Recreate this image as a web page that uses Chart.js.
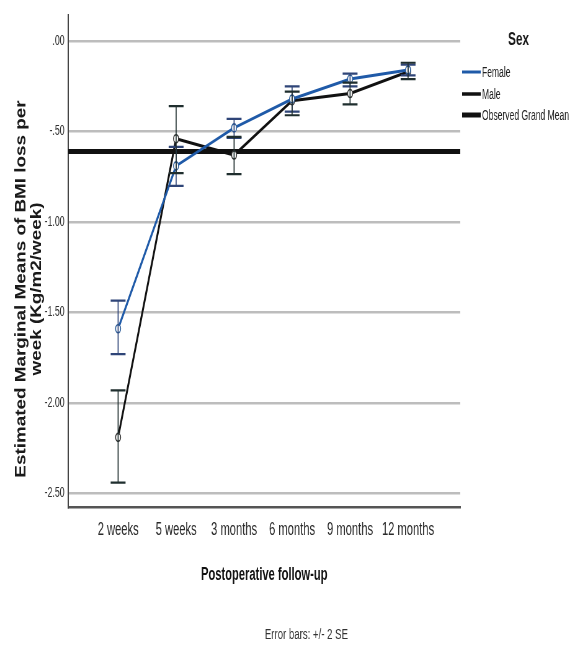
<!DOCTYPE html>
<html>
<head>
<meta charset="utf-8">
<script src="https://cdn.jsdelivr.net/npm/chart.js@4.4.1/dist/chart.umd.min.js"></script>
<style>
  html, body { margin: 0; padding: 0; background: #ffffff; overflow: hidden; }
  #wrap { width: 575px; height: 648px; overflow: hidden; }
  canvas { display: block; width: 575px !important; height: 648px !important; }
</style>
</head>
<body>
<div id="wrap"><canvas id="c" width="927" height="648"></canvas></div>
<script>
// ---- data ----
const categories = ['2 weeks', '5 weeks', '3 months', '6 months', '9 months', '12 months'];
const femaleMeans = [-1.59, -0.69, -0.48, -0.32, -0.21, -0.16];
const femaleUpper = [-1.435, -0.585, -0.43, -0.25, -0.18, -0.13];
const femaleLower = [-1.73, -0.80, -0.535, -0.39, -0.25, -0.19];
const maleMeans = [-2.19, -0.54, -0.63, -0.33, -0.29, -0.17];
const maleUpper = [-1.93, -0.36, -0.53, -0.28, -0.23, -0.12];
const maleLower = [-2.44, -0.73, -0.735, -0.41, -0.35, -0.21];
const grandMean = -0.61;
const yTickValues = [0, -0.5, -1, -1.5, -2, -2.5];
const seriesNames = ['Female', 'Male', 'Observed Grand Mean'];
const legendTitle = 'Sex';
const yTitleLines = ['Estimated Marginal Means of BMI loss per', 'week (Kg/m2/week)'];
const xTitle = 'Postoperative follow-up';
const footnote = 'Error bars: +/- 2 SE';

const xMin = -0.86, xMax = 5.9;
const yMin = -2.575, yMax = 0.144;

const FONT = "'Liberation Sans', Arial, Helvetica, sans-serif";
const FEMALE_COLOR = '#1f5aa8';
const MALE_COLOR = '#111111';

function fmtTick(v) {
  return Number(v).toFixed(2).replace(/^(-?)0\./, '$1.');
}

const errorBarPlugin = {
  id: 'errorBars',
  afterDatasetsDraw(chart) {
    const { ctx } = chart;
    const xs = chart.scales.x, ys = chart.scales.y;
    const sets = [
      { upper: femaleUpper, lower: femaleLower, color: '#2f4578' },
      { upper: maleUpper, lower: maleLower, color: '#1f2e2e' }
    ];
    ctx.save();
    sets.forEach(s => {
      ctx.strokeStyle = s.color;
      for (let i = 0; i < categories.length; i++) {
        const px = xs.getPixelForValue(i);
        const t = ys.getPixelForValue(s.upper[i]);
        const b = ys.getPixelForValue(s.lower[i]);
        ctx.lineWidth = 1.7;
        ctx.beginPath(); ctx.moveTo(px, t); ctx.lineTo(px, b); ctx.stroke();
        ctx.lineWidth = 2.2;
        ctx.beginPath();
        ctx.moveTo(px - 12, t); ctx.lineTo(px + 12, t);
        ctx.moveTo(px - 12, b); ctx.lineTo(px + 12, b);
        ctx.stroke();
      }
    });
    ctx.restore();
  }
};

const textPlugin = {
  id: 'extraText',
  afterDraw(chart) {
    const { ctx } = chart;
    ctx.save();
    // y axis title (two rotated lines)
    ctx.fillStyle = '#1a1a1a';
    ctx.font = 'bold 23px ' + FONT;
    ctx.textAlign = 'center';
    ctx.textBaseline = 'middle';
    const titleXs = [35, 60];
    yTitleLines.forEach((line, k) => {
      ctx.save();
      ctx.translate(titleXs[k], 289);
      ctx.rotate(-Math.PI / 2);
      ctx.scale(0.82, 1);
      ctx.fillText(line, 0, 0);
      ctx.restore();
    });

    // legend
    ctx.font = 'bold 19px ' + FONT;
    ctx.fillStyle = '#1a1a1a';
    ctx.fillText(legendTitle, 836, 40);
    const legendYs = [72, 94, 115];
    const legendColors = [FEMALE_COLOR, MALE_COLOR, MALE_COLOR];
    const legendWidths = [3, 3.5, 5];
    ctx.textAlign = 'left';
    ctx.font = '13.8px ' + FONT;
    seriesNames.forEach((name, k) => {
      ctx.strokeStyle = legendColors[k];
      ctx.lineWidth = legendWidths[k];
      ctx.beginPath();
      ctx.moveTo(745, legendYs[k]);
      ctx.lineTo(775, legendYs[k]);
      ctx.stroke();
      ctx.fillStyle = '#222222';
      ctx.fillText(name, 777, legendYs[k] + 1);
    });

    // footnote
    ctx.textAlign = 'center';
    ctx.font = '15.5px ' + FONT;
    ctx.fillStyle = '#333333';
    ctx.fillText(footnote, 494, 635);
    ctx.restore();
  }
};

const toPoints = arr => arr.map((y, i) => ({ x: i, y }));

new Chart(document.getElementById('c'), {
  type: 'line',
  data: {
    datasets: [
      {
        label: seriesNames[0],
        data: toPoints(femaleMeans),
        borderColor: FEMALE_COLOR,
        borderWidth: 3,
        pointRadius: 4,
        pointBorderWidth: 1.6,
        pointBorderColor: '#2f5f9a',
        pointBackgroundColor: '#ffffff',
        tension: 0,
        order: 1
      },
      {
        label: seriesNames[1],
        data: toPoints(maleMeans),
        borderColor: MALE_COLOR,
        borderWidth: 3,
        pointRadius: 4,
        pointBorderWidth: 1.6,
        pointBorderColor: '#333333',
        pointBackgroundColor: '#ffffff',
        tension: 0,
        order: 2
      },
      {
        label: seriesNames[2],
        data: [{ x: xMin, y: grandMean }, { x: xMax, y: grandMean }],
        borderColor: MALE_COLOR,
        borderWidth: 5,
        pointRadius: 0,
        tension: 0,
        order: 3
      }
    ]
  },
  options: {
    responsive: false,
    animation: false,
    devicePixelRatio: 1,
    layout: { padding: { left: 0, top: 15, right: 185, bottom: 0 } },
    plugins: {
      legend: { display: false },
      tooltip: { enabled: false }
    },
    scales: {
      x: {
        type: 'linear',
        min: xMin,
        max: xMax,
        afterBuildTicks: s => { s.ticks = categories.map((c, i) => ({ value: i })); },
        afterFit: s => { s.height = 141; },
        grid: { display: false, drawTicks: false },
        border: { display: true, color: '#555555', width: 2.6 },
        ticks: {
          padding: 12,
          autoSkip: false,
          maxRotation: 0,
          color: '#2a2a2a',
          font: { family: FONT, size: 18 },
          callback: v => categories[v] ?? ''
        },
        title: {
          display: true,
          text: xTitle,
          color: '#111111',
          font: { family: FONT, size: 18, weight: 'bold' },
          padding: { top: 0, bottom: 62 }
        }
      },
      y: {
        type: 'linear',
        min: yMin,
        max: yMax,
        afterBuildTicks: s => { s.ticks = yTickValues.map(v => ({ value: v })); },
        afterFit: s => { s.width = 110; },
        grid: { color: '#bdbdbd', lineWidth: 2.6, drawTicks: false },
        border: { display: true, color: '#444444', width: 2 },
        ticks: {
          padding: 6,
          color: '#333333',
          font: { family: FONT, size: 14 },
          callback: v => fmtTick(v)
        }
      }
    }
  },
  plugins: [errorBarPlugin, textPlugin]
});
</script>
</body>
</html>
